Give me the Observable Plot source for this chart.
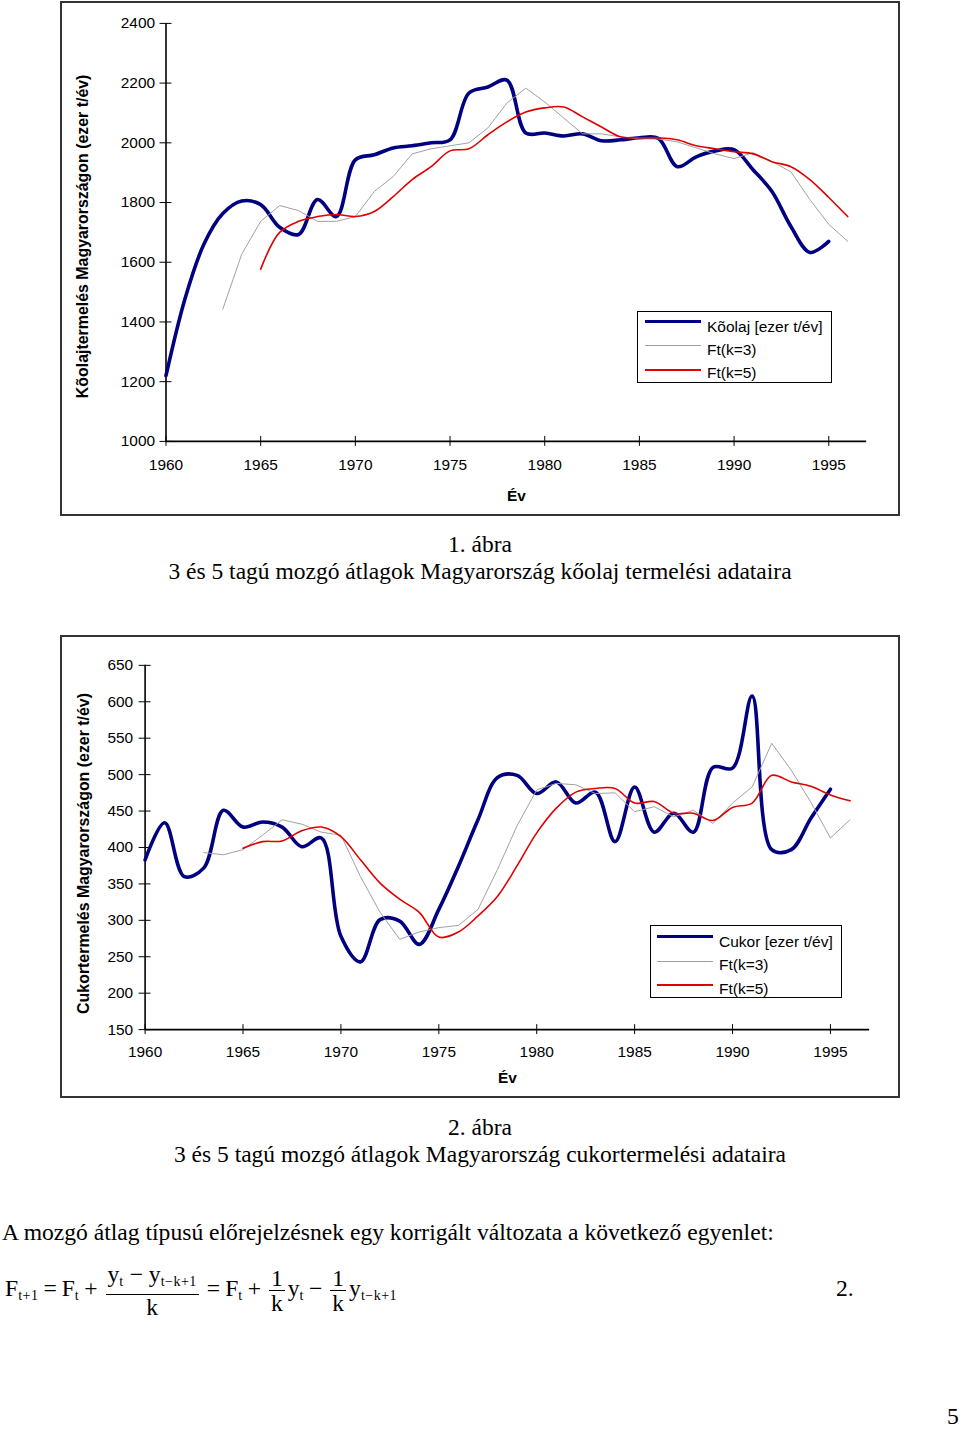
<!DOCTYPE html>
<html><head><meta charset="utf-8">
<script src="https://cdn.jsdelivr.net/npm/d3@7"></script>
<script src="https://cdn.jsdelivr.net/npm/@observablehq/plot@0.6"></script>
<style>
body{margin:0;background:#fff;}
#page{position:relative;width:960px;height:1429px;overflow:hidden;font-family:"Liberation Serif","Times New Roman",serif;color:#000;background:#fff;}
.box{position:absolute;border:2px solid #333;box-sizing:border-box;background:#fff;}
.box svg{position:absolute;left:-2px;top:-2px;}
.legend{position:absolute;border:1.5px solid #000;box-sizing:border-box;font-family:"Liberation Sans",Arial,sans-serif;font-size:15.5px;background:#fff;}
.legend .ln{position:absolute;height:0;}
.legend .tx{position:absolute;line-height:18px;white-space:nowrap;}
.cap{position:absolute;left:0;width:960px;text-align:center;font-size:23.5px;line-height:27px;white-space:nowrap;}
.t{position:absolute;white-space:nowrap;font-size:23.6px;}
.frac{display:inline-flex;flex-direction:column;align-items:center;vertical-align:middle;margin:0 3px;}
.frac .num{border-bottom:1px solid #000;padding:0 2px;line-height:24px;}
.frac .den{line-height:24px;}
.op{margin:0 5px;}
sub{font-size:14px;vertical-align:-4px;letter-spacing:0.5px;}
</style></head>
<body><div id="page"></div>
<script>
// ---- data ----
const years = d3.range(1960, 1997);
const xTicks = [1960, 1965, 1970, 1975, 1980, 1985, 1990, 1995];

const oilTicks = [1000, 1200, 1400, 1600, 1800, 2000, 2200, 2400];
const oil = [1220, 1477, 1660, 1763, 1805, 1793, 1717, 1693, 1810, 1753, 1943, 1960, 1983, 1990, 2000, 2010,
  2167, 2187, 2210, 2033, 2033, 2023, 2030, 2007, 2010, 2017, 2015, 1920, 1953, 1973, 1977, 1910, 1837, 1720,
  1633, 1670, null];
const oilK3 = [null, null, null, 1443, 1627, 1737, 1790, 1773, 1737, 1737, 1753, 1837, 1887, 1963, 1980, 1990,
  2000, 2050, 2133, 2183, 2137, 2083, 2030, 2030, 2020, 2013, 2013, 2003, 1983, 1963, 1947, 1967, 1937, 1903,
  1810, 1727, 1670];
const oilK5 = [null, null, null, null, null, 1577, 1700, 1737, 1753, 1760, 1753, 1770, 1820, 1877, 1920, 1973,
  1980, 2027, 2070, 2103, 2117, 2120, 2087, 2053, 2020, 2017, 2017, 2010, 1990, 1980, 1970, 1963, 1937, 1920,
  1877, 1817, 1753];

const sugarTicks = [150, 200, 250, 300, 350, 400, 450, 500, 550, 600, 650];
const sugar = [383, 434, 360, 372, 451, 428, 435, 428, 401, 413, 278, 243, 301, 299, 267, 315, 374, 438, 496,
  499, 474, 490, 461, 476, 408, 483, 421, 447, 421, 510, 509, 608, 397, 397, 440, 480, null];
const sugarK3 = [null, null, null, 393, 390, 397, 417, 438, 432, 421, 417, 360, 311, 274, 284, 290, 293, 315,
  370, 430, 479, 488, 486, 474, 475, 449, 456, 442, 451, 433, 461, 483, 543, 506, 462, 413, 438];
const sugarK5 = [null, null, null, null, null, 399, 408, 409, 423, 428, 415, 383, 351, 329, 311, 277, 284, 306,
  333, 375, 420, 454, 476, 481, 481, 461, 463, 447, 447, 437, 455, 461, 499, 490, 484, 472, 464];

const seriesNames1 = ["Kõolaj [ezer t/év]", "Ft(k=3)", "Ft(k=5)"];
const seriesNames2 = ["Cukor [ezer t/év]", "Ft(k=3)", "Ft(k=5)"];
const colors = ["#000080", "#a0a0a0", "#e00000"];

// ---- drawing ----
const page = document.getElementById("page");
const rows = vals => years.map((year, i) => ({year, v: vals[i]})).filter(d => d.v != null);

function makeChart(cfg) {
  const box = document.createElement("div");
  box.className = "box";
  Object.assign(box.style, {left: cfg.left + "px", top: cfg.top + "px", width: cfg.width + "px", height: cfg.height + "px"});
  const plot = Plot.plot({
    width: cfg.width, height: cfg.height,
    marginLeft: cfg.ml, marginRight: cfg.mr, marginTop: cfg.mt, marginBottom: cfg.mb,
    style: {fontFamily: "'Liberation Sans', Arial, sans-serif", fontSize: "15.5px", background: "transparent", overflow: "visible", color: "#000"},
    x: {domain: [1960, 1997]},
    y: {domain: cfg.yDomain},
    marks: [
      Plot.axisY({ticks: cfg.yTicks, tickSize: 6, tickPadding: cfg.yPad, label: null, tickFormat: d => String(d)}),
      Plot.axisY({ticks: cfg.yTicks, tickSize: 6, dx: 6, fill: "none", label: null}),
      Plot.axisX({ticks: xTicks, tickSize: 5, tickPadding: cfg.xPad, label: null, tickFormat: d => String(d)}),
      Plot.axisX({ticks: xTicks, tickSize: 5, dy: -5, fill: "none", label: null}),
      Plot.ruleX([1960], {strokeWidth: 1.6}),
      Plot.ruleY([cfg.yDomain[0]], {strokeWidth: 1.6}),
      Plot.line(rows(cfg.main), {x: "year", y: "v", stroke: colors[0], strokeWidth: 3.6, curve: "catmull-rom", strokeLinejoin: "round", strokeLinecap: "round"}),
      Plot.line(rows(cfg.k3), {x: "year", y: "v", stroke: colors[1], strokeWidth: 1}),
      Plot.line(rows(cfg.k5), {x: "year", y: "v", stroke: colors[2], strokeWidth: 1.6, curve: "catmull-rom"}),
      Plot.text(["Év"], {frameAnchor: "bottom", dy: cfg.evDy, fontWeight: "bold", fontSize: 15.5}),
      Plot.text([cfg.ylabel], {frameAnchor: "left", textAnchor: "middle", dx: cfg.ylDx, rotate: -90, fontWeight: "bold", fontSize: 16, dy: cfg.ylDy})
    ]
  });
  box.appendChild(plot);
  page.appendChild(box);

  const lg = document.createElement("div");
  lg.className = "legend";
  Object.assign(lg.style, {left: cfg.lg.left + "px", top: cfg.lg.top + "px", width: cfg.lg.w + "px", height: cfg.lg.h + "px"});
  cfg.names.forEach((name, i) => {
    const ln = document.createElement("div");
    ln.className = "ln";
    const w = [3, 1, 2][i];
    Object.assign(ln.style, {left: cfg.lg.lx + "px", width: cfg.lg.lw + "px", top: (cfg.lg.ly[i] - w / 2) + "px", borderTop: w + "px solid " + colors[i]});
    const tx = document.createElement("div");
    tx.className = "tx";
    tx.textContent = name;
    Object.assign(tx.style, {left: cfg.lg.tx + "px", top: (cfg.lg.ty[i] - 9) + "px"});
    lg.appendChild(ln); lg.appendChild(tx);
  });
  page.appendChild(lg);
}

makeChart({
  left: 60, top: 1, width: 840, height: 515,
  ml: 106, mr: 30, mt: 22, mb: 73,
  yDomain: [1000, 2400], yTicks: oilTicks, yPad: 5, xPad: 13,
  main: oil, k3: oilK3, k5: oilK5,
  evDy: 60, ylDx: -83, ylDy: 4,
  ylabel: "Kõolajtermelés Magyarországon (ezer t/év)",
  names: seriesNames1,
  lg: {left: 637, top: 311, w: 195, h: 72, lx: 7, lw: 56, ly: [9, 33, 58], tx: 69, ty: [15, 38, 61]}
});
makeChart({
  left: 60, top: 635, width: 840, height: 463,
  ml: 85, mr: 27, mt: 30, mb: 67,
  yDomain: [150, 650], yTicks: sugarTicks, yPad: 6, xPad: 12,
  main: sugar, k3: sugarK3, k5: sugarK5,
  evDy: 54, ylDx: -62, ylDy: 6,
  ylabel: "Cukortermelés Magyarországon (ezer t/év)",
  names: seriesNames2,
  lg: {left: 650, top: 925, w: 192, h: 73, lx: 6, lw: 56, ly: [10, 35, 59], tx: 68, ty: [16, 39, 63]}
});

function addText(cls, html, style) {
  const d = document.createElement("div");
  d.className = cls;
  d.innerHTML = html;
  Object.assign(d.style, style);
  page.appendChild(d);
}
addText("cap", "1. ábra", {top: "531px"});
addText("cap", "3 és 5 tagú mozgó átlagok Magyarország kőolaj termelési adataira", {top: "558px"});
addText("cap", "2. ábra", {top: "1114px"});
addText("cap", "3 és 5 tagú mozgó átlagok Magyarország cukortermelési adataira", {top: "1141px"});
addText("t", "A mozgó átlag típusú előrejelzésnek egy korrigált változata a következő egyenlet:", {left: "2px", top: "1219px"});
addText("t",
  'F<sub>t+1</sub><span class="op">=</span>F<sub>t</sub><span class="op">+</span><span class="frac"><span class="num">y<sub>t</sub> − y<sub>t−k+1</sub></span><span class="den">k</span></span>' +
  '<span class="op">=</span>F<sub>t</sub><span class="op">+</span><span class="frac"><span class="num">1</span><span class="den">k</span></span>y<sub>t</sub><span class="op">−</span>' +
  '<span class="frac"><span class="num">1</span><span class="den">k</span></span>y<sub>t−k+1</sub>',
  {left: "5px", top: "1262px"});
addText("t", "2.", {left: "836px", top: "1275px"});
addText("t", "5", {left: "947px", top: "1403px"});
</script>
</body></html>
